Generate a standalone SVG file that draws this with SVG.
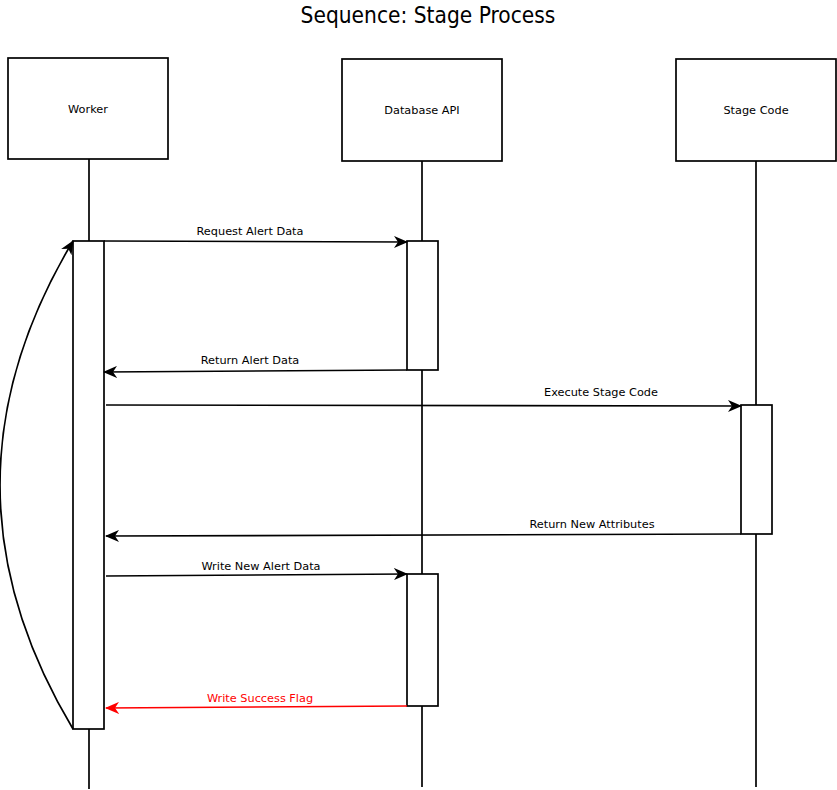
<svg xmlns="http://www.w3.org/2000/svg" width="837" height="790" viewBox="0 0 837 790">
<style>
.box{fill:#fff;stroke:#000;stroke-width:1.7}
.life{stroke:#000;stroke-width:1.7;fill:none}
.msg{stroke:#000;stroke-width:1.7;fill:none;marker-end:url(#arr)}
.red{stroke:#f00;marker-end:url(#arrR)}
text{font-family:"DejaVu Sans",sans-serif;font-size:11.3px;fill:#000}
.lbl{text-anchor:middle}
.title{font-size:22.5px;font-family:"DejaVu Sans Condensed","DejaVu Sans",sans-serif}
</style>
<defs>
<marker id="arr" viewBox="0 0 14 12" refX="13" refY="6" markerWidth="14" markerHeight="12" markerUnits="userSpaceOnUse" orient="auto">
<path d="M0,0 L14,6 L0,12 L4,6 Z" fill="#000"/>
</marker>
<marker id="arrR" viewBox="0 0 14 12" refX="13" refY="6" markerWidth="14" markerHeight="12" markerUnits="userSpaceOnUse" orient="auto">
<path d="M0,0 L14,6 L0,12 L4,6 Z" fill="#f00"/>
</marker>
</defs>
<rect width="837" height="790" fill="#fff"/>
<text class="title lbl" x="428" y="23">Sequence: Stage Process</text>
<g id="lifelines">
<line class="life" x1="89" y1="159" x2="89" y2="789"/>
<line class="life" x1="422" y1="161" x2="422" y2="787"/>
<line class="life" x1="756" y1="161" x2="756" y2="787"/>
</g>
<g id="worker"><rect class="box" x="8" y="58" width="160" height="101"/><text class="lbl" x="88" y="113">Worker</text></g>
<g id="database-api"><rect class="box" x="342" y="59" width="160" height="102"/><text class="lbl" x="422" y="114">Database API</text></g>
<g id="stage-code"><rect class="box" x="676" y="59" width="160" height="102"/><text class="lbl" x="756" y="114">Stage Code</text></g>
<g id="worker-activation"><rect class="box" x="73" y="241" width="31" height="488"/></g>
<g id="db-activation-1"><rect class="box" x="407" y="241" width="31" height="129"/></g>
<g id="stage-activation"><rect class="box" x="741" y="405" width="31" height="129"/></g>
<g id="db-activation-2"><rect class="box" x="407" y="574" width="31" height="132"/></g>
<g id="connectors">
<path class="msg" d="M104,241 L407,242"/>
<path class="msg" d="M407,370 L104,372"/>
<path class="msg" d="M106,405 L741,406"/>
<path class="msg" d="M741,534 L106,536"/>
<path class="msg" d="M106,576 L407,574"/>
<path class="msg red" d="M407,706 L106,708"/>
<path class="msg" d="M73,729 Q-73,485 73,241"/>
<text class="lbl" x="250" y="235">Request Alert Data</text>
<text class="lbl" x="250" y="364">Return Alert Data</text>
<text class="lbl" x="601" y="396">Execute Stage Code</text>
<text class="lbl" x="592" y="528">Return New Attributes</text>
<text class="lbl" x="261" y="570">Write New Alert Data</text>
<text class="lbl" x="260" y="702" style="fill:#f00">Write Success Flag</text>
</g>
</svg>
